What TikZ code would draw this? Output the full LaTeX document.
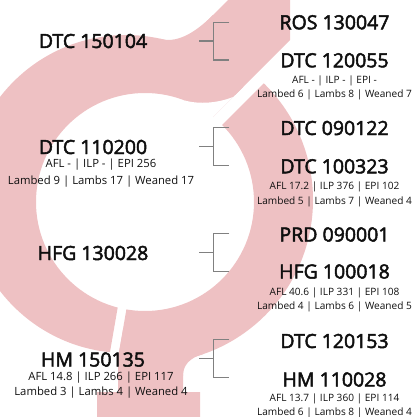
\documentclass[tikz,border=0pt]{standalone}
\usepackage{fontspec}
\setmainfont{Open Sans}
\newfontfamily\ttlfam{Open Sans}[FakeBold=2.5]
\definecolor{pinkbg}{RGB}{238,193,195}
\definecolor{brkgray}{RGB}{128,128,128}
\definecolor{txt}{RGB}{15,15,15}
\newcommand\ttlfont{\ttlfam\fontsize{19.5}{22}\selectfont}
\newcommand\subfnt{\fontsize{11.3}{13}\selectfont}
\newcommand\subrfnt{\fontsize{10.1}{12}\selectfont}
\begin{document}
\begin{tikzpicture}[x=1pt,y=-1pt,
  ttl/.style={font=\ttlfont, text=txt, anchor=base, inner sep=0pt},
  sub/.style={font=\subfnt, text=txt, anchor=base, inner sep=0pt},
  subr/.style={font=\subrfnt, text=txt, anchor=base, inner sep=0pt},
  brk/.style={draw=brkgray, line width=1.1pt},
  ink/.style={fill=pinkbg}]
\useasboundingbox (0,0) rectangle (414,417);
\clip (0,0) rectangle (414,417);
% male ring (left / top part)
\begin{scope}
  \clip (-50,-50) -- (380,-50) -- (160,170) -- (119,300) -- (93,450) -- (-50,450) -- cycle;
  \fill[ink, even odd rule] (126,194) circle[radius=159pt] (145,202) circle[radius=109pt];
\end{scope}
% arrow shaft
\fill[ink] (290,40) -- (290,-10) -- (238,-10) -- (180,48) -- (235,95) -- cycle;
% fillet between ring and shaft
\fill[ink] (160,38.7) .. controls (175.1,43.2) and (192.7,35.3) .. (213,15) -- (200,60) -- (160,60) -- cycle;
% white notch under the ring end
\fill[white] (185,100.6) .. controls (200,104.5) and (218,103) .. (233,97) -- (222,108) -- (205,125) -- (185,110) -- cycle;
% female ring (right / bottom part)
\begin{scope}
  \clip (397,-50) -- (170,177) -- (128,300) -- (118,358) -- (118,460) -- (500,460) -- (500,-50) -- cycle;
  \fill[ink, even odd rule] (150,200) circle[radius=163pt] (145,202) circle[radius=109pt];
\end{scope}
% stem and cross bar
\fill[ink] (123,330) -- (183,330) -- (183,392) -- (200,392) -- (200,430) -- (97,430) -- (97,392) -- (118,392) -- (118,358) -- cycle;
\fill[ink] (203,354.1) .. controls (189.7,357.8) and (183,365.1) .. (183,376) -- (150,376) -- (150,340) -- (203,340) -- cycle;

% left column
\node[ttl] (l1) at (93,48) {DTC 150104};
\node[ttl] (l2) at (93,154) {DTC 110200};
\node[sub] (l2a) at (101,167.3) {AFL - | ILP - | EPI 256};
\node[sub] (l2b) at (101,184) {Lambed 9 | Lambs 17 | Weaned 17};
\node[ttl] (l3) at (93,260) {HFG 130028};
\node[ttl] (l4) at (93,366.5) {HM 150135};
\node[sub] (l4a) at (101,380.5) {AFL 14.8 | ILP 266 | EPI 117};
\node[sub] (l4b) at (101,395.5) {Lambed 3 | Lambs 4 | Weaned 4};

% right column
\node[ttl] (r1) at (334.5,29.3) {ROS 130047};
\node[ttl] (r2) at (334.5,67.3) {DTC 120055};
\node[subr] (r2a) at (334.5,83.3) {AFL - | ILP - | EPI -};
\node[subr] (r2b) at (334.5,97.5) {Lambed 6 | Lambs 8 | Weaned 7};
\node[ttl] (r3) at (334.5,135) {DTC 090122};
\node[ttl] (r4) at (334.5,173.3) {DTC 100323};
\node[subr] (r4a) at (334.5,189.3) {AFL 17.2 | ILP 376 | EPI 102};
\node[subr] (r4b) at (334.5,204.5) {Lambed 5 | Lambs 7 | Weaned 4};
\node[ttl] (r5) at (334.5,241.5) {PRD 090001};
\node[ttl] (r6) at (334.5,278.5) {HFG 100018};
\node[subr] (r6a) at (334.5,295) {AFL 40.6 | ILP 331 | EPI 108};
\node[subr] (r6b) at (334.5,309.5) {Lambed 4 | Lambs 6 | Weaned 5};
\node[ttl] (r7) at (334.5,348) {DTC 120153};
\node[ttl] (r8) at (334.5,386.5) {HM 110028};
\node[subr] (r8a) at (334.5,401.5) {AFL 13.7 | ILP 360 | EPI 114};
\node[subr] (r8b) at (334.5,415.5) {Lambed 6 | Lambs 8 | Weaned 4};

% brackets
\foreach \i/\ys/\ya/\yb in {1/41/22.3/60, 2/146.5/127.7/165.7, 3/252.3/233.3/271.7, 4/358.3/339.3/377.7} {
  \coordinate (s\i) at (199.3,\ys);
  \coordinate (j\i) at (213.5,\ys);
  \coordinate (a\i) at (229.3,\ya);
  \coordinate (b\i) at (229.3,\yb);
  \draw[brk] (s\i) -- (j\i);
  \draw[brk] (a\i) -- (a\i -| j\i) -- (b\i -| j\i) -- (b\i);
}
\end{tikzpicture}
\end{document}
